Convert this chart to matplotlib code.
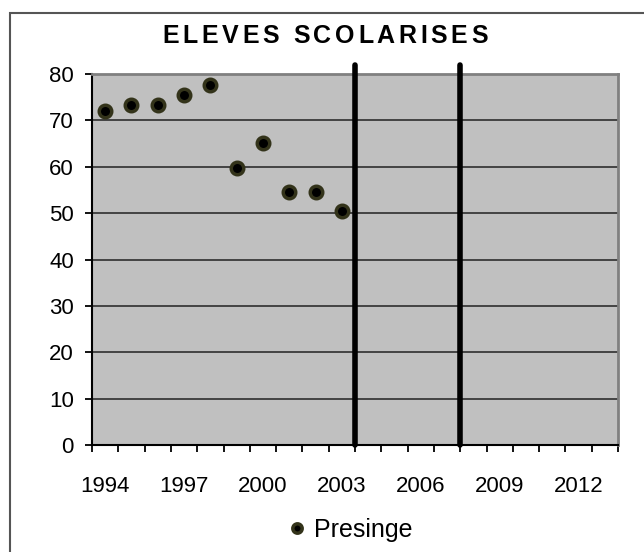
import numpy as np
import matplotlib.pyplot as plt
from matplotlib.ticker import FixedLocator, MultipleLocator
from matplotlib.patches import Rectangle

plt.rcParams['font.family'] = ['Liberation Sans', 'DejaVu Sans']

years = [1994, 1995, 1996, 1997, 1998, 1999, 2000, 2001, 2002, 2003]
eleves = [72, 73.4, 73.4, 75.4, 77.6, 59.7, 65.1, 54.5, 54.5, 50.4]
label_years = [1994, 1997, 2000, 2003, 2006, 2009, 2012]
cut_years = [2003.5, 2007.5]
title = 'ELEVES SCOLARISES'

fig = plt.figure(figsize=(6.44, 5.52), dpi=100)
fig.patches.append(Rectangle((10/644, -0.1), 1.2, 1 - 13/552 + 0.1, transform=fig.transFigure,
                             fill=False, edgecolor='#555555', linewidth=1.5))

ax = fig.add_axes([92/644, 1 - 445/552, 526/644, 371/552])
ax.set_facecolor('#c0c0c0')
ax.set_xlim(1993.5, 2013.5)
ax.set_ylim(0, 80)

ax.yaxis.set_major_locator(MultipleLocator(10))
ax.grid(axis='y', color='#222222', linewidth=1.1)
ax.set_axisbelow(True)

ax.xaxis.set_major_locator(FixedLocator(label_years))
ax.xaxis.set_minor_locator(FixedLocator(np.arange(1993.5, 2014, 1)))
ax.tick_params(axis='x', which='major', length=0, pad=22, labelsize=16)
ax.tick_params(axis='x', which='minor', length=5, width=1.3, direction='out', color='black')
ax.tick_params(axis='y', length=5, width=1.3, direction='out', labelsize=16, pad=8)

for s in ['top', 'right']:
    ax.spines[s].set_color('#808080')
    ax.spines[s].set_linewidth(2)
for s in ['left', 'bottom']:
    ax.spines[s].set_color('black')
    ax.spines[s].set_linewidth(1.5)

for c in cut_years:
    ax.plot([c, c], [0, 82], color='black', linewidth=4, solid_capstyle='round',
            clip_on=False, zorder=4)

ax.plot(years, eleves, linestyle='none', marker='o', markersize=9,
        markerfacecolor='black', markeredgecolor='#33331a', markeredgewidth=2.5,
        label='Presinge', zorder=5)

# title with wide letter spacing, placed char by char
r = fig.canvas.get_renderer()
track = 3.6
chars = []
x = 0
for ch in title:
    t = fig.text(0, 1 - 36/552, ch, ha='left', va='center', fontsize=18, fontweight='bold')
    w = t.get_window_extent(r).width
    chars.append((t, x))
    x += w + track
total = x - track
x0 = 325 - total / 2
for t, dx in chars:
    t.set_x((x0 + dx) / 644)

leg = fig.legend(loc='center', bbox_to_anchor=(352/644, 1 - 530/552), frameon=False,
                 fontsize=18, handlelength=0.4, handletextpad=0.5, markerscale=0.75)

fig.savefig('out.png', dpi=100)
